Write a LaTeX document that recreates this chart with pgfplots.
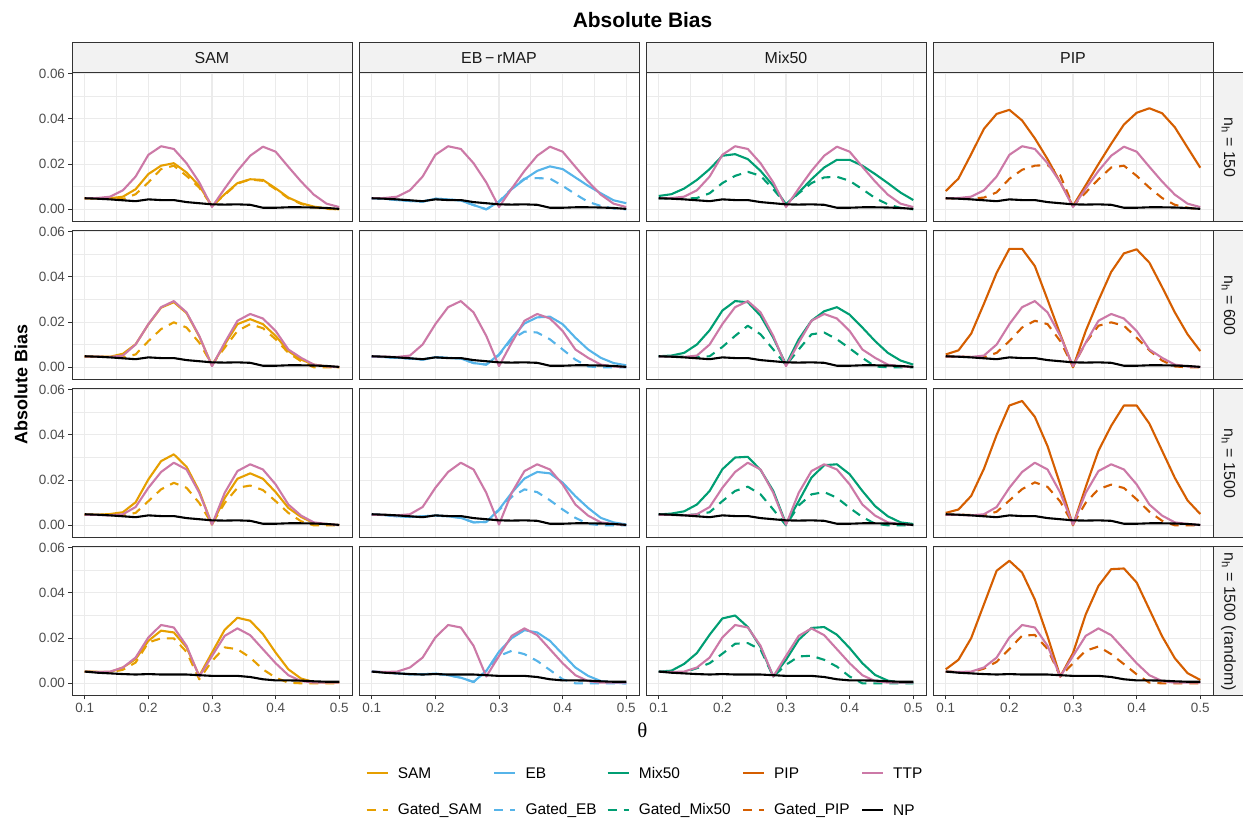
\documentclass[border=0pt]{standalone}
\usepackage{pgfplots}
\pgfplotsset{compat=1.18}
\usepackage{pgfplotstable}
\usepackage{fontspec}
\setmainfont{Liberation Sans}
\newfontfamily\seriffont{Liberation Serif}
\definecolor{cSAM}{HTML}{E69F00}
\definecolor{cEB}{HTML}{56B4E9}
\definecolor{cMIX}{HTML}{009E73}
\definecolor{cPIP}{HTML}{D55E00}
\definecolor{cTTP}{HTML}{CC79A7}
\definecolor{grid92}{HTML}{EBEBEB}
\definecolor{g20}{HTML}{333333}
\definecolor{g30}{HTML}{4D4D4D}
\definecolor{g10}{HTML}{1A1A1A}
\definecolor{stripbg}{HTML}{F2F2F2}
\tikzset{gated/.style={dash pattern=on 9bp off 7bp}}

\pgfplotstableread{
x     sam    gsam   eb     geb    mix    gmix   pip    gpip   ttp    np
0.10 0.0049 0.0049 0.0049 0.0049 0.0059 0.0049 0.0081 0.0049 0.0049 0.0049
0.12 0.0048 0.0048 0.0047 0.0047 0.0067 0.0048 0.0136 0.0048 0.0050 0.0047
0.14 0.0049 0.0047 0.0041 0.0041 0.0092 0.0047 0.0244 0.0047 0.0056 0.0044
0.16 0.0056 0.0045 0.0037 0.0037 0.0130 0.0050 0.0356 0.0052 0.0084 0.0040
0.18 0.0089 0.0067 0.0034 0.0034 0.0178 0.0071 0.0422 0.0075 0.0145 0.0036
0.20 0.0156 0.0119 0.0047 0.0047 0.0237 0.0116 0.0440 0.0135 0.0241 0.0044
0.22 0.0193 0.0178 0.0044 0.0044 0.0244 0.0148 0.0393 0.0175 0.0279 0.0041
0.24 0.0204 0.0193 0.0039 0.0039 0.0222 0.0166 0.0314 0.0193 0.0267 0.0041
0.26 0.0163 0.0148 0.0019 0.0019 0.0170 0.0148 0.0222 0.0196 0.0204 0.0032
0.28 0.0104 0.0096 0.0000 0.0000 0.0104 0.0089 0.0119 0.0150 0.0119 0.0027
0.30 0.0015 0.0015 0.0034 0.0034 0.0022 0.0022 0.0015 0.0015 0.0010 0.0022
0.32 0.0067 0.0064 0.0089 0.0092 0.0074 0.0071 0.0107 0.0074 0.0092 0.0021
0.34 0.0116 0.0114 0.0133 0.0136 0.0133 0.0116 0.0200 0.0133 0.0170 0.0022
0.36 0.0133 0.0132 0.0170 0.0138 0.0185 0.0141 0.0290 0.0185 0.0237 0.0020
0.38 0.0130 0.0126 0.0190 0.0136 0.0219 0.0144 0.0375 0.0193 0.0277 0.0007
0.40 0.0093 0.0089 0.0178 0.0104 0.0219 0.0126 0.0427 0.0148 0.0255 0.0007
0.42 0.0052 0.0049 0.0141 0.0067 0.0193 0.0089 0.0447 0.0096 0.0188 0.0009
0.44 0.0027 0.0024 0.0104 0.0033 0.0156 0.0050 0.0425 0.0050 0.0123 0.0009
0.46 0.0012 0.0009 0.0071 0.0015 0.0116 0.0022 0.0363 0.0020 0.0065 0.0008
0.48 0.0004 0.0002 0.0040 0.0004 0.0074 0.0006 0.0273 0.0007 0.0025 0.0006
0.50 0.0000 0.0000 0.0027 0.0000 0.0041 0.0000 0.0184 0.0000 0.0010 0.0002
}\rowA
\pgfplotstableread{
x     sam    gsam   eb     geb    mix    gmix   pip    gpip   ttp    np
0.10 0.0048 0.0048 0.0048 0.0048 0.0049 0.0049 0.0057 0.0048 0.0048 0.0049
0.12 0.0047 0.0047 0.0045 0.0045 0.0052 0.0048 0.0075 0.0047 0.0047 0.0047
0.14 0.0047 0.0046 0.0042 0.0042 0.0064 0.0047 0.0149 0.0046 0.0046 0.0044
0.16 0.0060 0.0044 0.0039 0.0039 0.0101 0.0045 0.0281 0.0045 0.0052 0.0040
0.18 0.0102 0.0057 0.0034 0.0034 0.0164 0.0049 0.0418 0.0064 0.0101 0.0036
0.20 0.0190 0.0116 0.0045 0.0045 0.0251 0.0090 0.0524 0.0116 0.0191 0.0044
0.22 0.0264 0.0169 0.0042 0.0042 0.0293 0.0139 0.0524 0.0176 0.0266 0.0041
0.24 0.0288 0.0199 0.0039 0.0039 0.0288 0.0184 0.0448 0.0206 0.0293 0.0041
0.26 0.0240 0.0176 0.0019 0.0019 0.0228 0.0146 0.0299 0.0191 0.0243 0.0032
0.28 0.0136 0.0109 0.0012 0.0012 0.0131 0.0079 0.0146 0.0116 0.0139 0.0027
0.30 0.0008 0.0012 0.0057 0.0054 0.0012 0.0009 0.0000 0.0004 0.0005 0.0022
0.32 0.0101 0.0087 0.0131 0.0124 0.0124 0.0079 0.0161 0.0109 0.0109 0.0021
0.34 0.0191 0.0161 0.0194 0.0158 0.0206 0.0146 0.0296 0.0184 0.0206 0.0022
0.36 0.0213 0.0191 0.0221 0.0154 0.0248 0.0154 0.0422 0.0199 0.0236 0.0020
0.38 0.0191 0.0173 0.0224 0.0124 0.0266 0.0124 0.0504 0.0184 0.0216 0.0007
0.40 0.0139 0.0124 0.0191 0.0079 0.0233 0.0084 0.0522 0.0131 0.0161 0.0007
0.42 0.0072 0.0064 0.0131 0.0034 0.0176 0.0042 0.0463 0.0075 0.0079 0.0009
0.44 0.0034 0.0027 0.0079 0.0004 0.0116 0.0004 0.0355 0.0030 0.0042 0.0009
0.46 0.0012 0.0000 0.0042 0.0000 0.0064 0.0000 0.0243 0.0004 0.0012 0.0008
0.48 0.0004 0.0000 0.0019 0.0000 0.0030 0.0000 0.0146 0.0000 0.0004 0.0006
0.50 0.0000 0.0000 0.0009 0.0000 0.0012 0.0000 0.0072 0.0000 0.0001 0.0002
}\rowB
\pgfplotstableread{
x     sam    gsam   eb     geb    mix    gmix   pip    gpip   ttp    np
0.10 0.0047 0.0047 0.0048 0.0048 0.0048 0.0048 0.0055 0.0047 0.0047 0.0049
0.12 0.0047 0.0047 0.0045 0.0045 0.0052 0.0047 0.0070 0.0047 0.0046 0.0047
0.14 0.0050 0.0046 0.0040 0.0040 0.0062 0.0046 0.0130 0.0046 0.0044 0.0044
0.16 0.0058 0.0045 0.0037 0.0037 0.0092 0.0048 0.0250 0.0045 0.0049 0.0040
0.18 0.0102 0.0055 0.0040 0.0040 0.0152 0.0058 0.0400 0.0060 0.0081 0.0036
0.20 0.0203 0.0107 0.0043 0.0043 0.0248 0.0107 0.0530 0.0110 0.0166 0.0044
0.22 0.0284 0.0159 0.0040 0.0040 0.0300 0.0152 0.0550 0.0160 0.0236 0.0041
0.24 0.0314 0.0188 0.0033 0.0033 0.0303 0.0171 0.0480 0.0190 0.0277 0.0041
0.26 0.0259 0.0166 0.0013 0.0013 0.0245 0.0137 0.0350 0.0170 0.0247 0.0032
0.28 0.0151 0.0099 0.0015 0.0015 0.0152 0.0070 0.0180 0.0105 0.0144 0.0027
0.30 0.0003 0.0006 0.0070 0.0067 0.0007 0.0000 0.0000 0.0004 0.0003 0.0022
0.32 0.0121 0.0099 0.0144 0.0126 0.0107 0.0088 0.0170 0.0100 0.0144 0.0021
0.34 0.0206 0.0166 0.0207 0.0159 0.0211 0.0137 0.0330 0.0160 0.0240 0.0022
0.36 0.0230 0.0176 0.0236 0.0147 0.0266 0.0147 0.0440 0.0180 0.0270 0.0020
0.38 0.0206 0.0156 0.0230 0.0111 0.0270 0.0122 0.0530 0.0165 0.0247 0.0007
0.40 0.0147 0.0107 0.0189 0.0070 0.0226 0.0077 0.0530 0.0115 0.0181 0.0007
0.42 0.0077 0.0055 0.0129 0.0033 0.0152 0.0037 0.0450 0.0060 0.0092 0.0009
0.44 0.0037 0.0018 0.0077 0.0007 0.0085 0.0007 0.0330 0.0020 0.0043 0.0009
0.46 0.0010 0.0000 0.0033 0.0000 0.0040 0.0000 0.0210 0.0000 0.0013 0.0008
0.48 0.0004 0.0000 0.0013 0.0000 0.0013 0.0000 0.0110 0.0000 0.0006 0.0006
0.50 0.0001 0.0000 0.0004 0.0000 0.0006 0.0000 0.0050 0.0000 0.0001 0.0002
}\rowC
\pgfplotstableread{
x     sam    gsam   eb     geb    mix    gmix   pip    gpip   ttp    np
0.10 0.0052 0.0052 0.0052 0.0052 0.0052 0.0052 0.0062 0.0052 0.0052 0.0052
0.12 0.0051 0.0050 0.0049 0.0049 0.0056 0.0050 0.0104 0.0050 0.0050 0.0047
0.14 0.0050 0.0049 0.0044 0.0044 0.0086 0.0049 0.0200 0.0049 0.0052 0.0044
0.16 0.0070 0.0060 0.0040 0.0040 0.0134 0.0067 0.0349 0.0065 0.0070 0.0041
0.18 0.0107 0.0092 0.0040 0.0040 0.0215 0.0089 0.0498 0.0095 0.0114 0.0039
0.20 0.0188 0.0181 0.0043 0.0043 0.0287 0.0131 0.0542 0.0152 0.0203 0.0041
0.22 0.0233 0.0199 0.0036 0.0036 0.0300 0.0175 0.0490 0.0211 0.0258 0.0039
0.24 0.0225 0.0199 0.0025 0.0025 0.0249 0.0178 0.0371 0.0214 0.0247 0.0039
0.26 0.0159 0.0139 0.0006 0.0006 0.0160 0.0149 0.0208 0.0152 0.0166 0.0039
0.28 0.0033 0.0018 0.0055 0.0055 0.0030 0.0030 0.0030 0.0030 0.0030 0.0036
0.30 0.0136 0.0099 0.0140 0.0121 0.0104 0.0082 0.0134 0.0089 0.0121 0.0033
0.32 0.0237 0.0159 0.0200 0.0144 0.0193 0.0119 0.0305 0.0144 0.0210 0.0033
0.34 0.0290 0.0151 0.0235 0.0129 0.0245 0.0122 0.0431 0.0163 0.0243 0.0033
0.36 0.0277 0.0114 0.0225 0.0099 0.0249 0.0104 0.0505 0.0129 0.0213 0.0028
0.38 0.0218 0.0062 0.0188 0.0059 0.0215 0.0074 0.0508 0.0085 0.0151 0.0018
0.40 0.0136 0.0025 0.0129 0.0018 0.0156 0.0030 0.0446 0.0040 0.0089 0.0013
0.42 0.0062 0.0003 0.0070 0.0000 0.0089 0.0000 0.0327 0.0003 0.0036 0.0013
0.44 0.0021 0.0000 0.0033 0.0000 0.0037 0.0000 0.0208 0.0000 0.0010 0.0012
0.46 0.0006 0.0000 0.0010 0.0000 0.0012 0.0000 0.0111 0.0000 0.0003 0.0009
0.48 0.0003 0.0000 0.0003 0.0000 0.0003 0.0000 0.0045 0.0000 0.0003 0.0007
0.50 0.0003 0.0000 0.0000 0.0000 0.0003 0.0000 0.0015 0.0000 0.0003 0.0007
}\rowD

\pgfplotsset{
  panel/.style={
    scale only axis, width=280bp, height=149bp, anchor=north west,
    xmin=0.08, xmax=0.52, ymin=-0.0056, ymax=0.0603,
    xtick={0.1,0.2,0.3,0.4,0.5}, minor xtick={0.15,0.25,0.35,0.45},
    ytick={0,0.02,0.04,0.06}, minor ytick={0.01,0.03,0.05},
    xtick pos=bottom, ytick pos=left,
    grid=both,
    major grid style={draw=grid92, line width=1.2bp},
    minor grid style={draw=grid92, line width=0.7bp},
    axis line style={draw=g20, line width=1bp},
    xticklabels={}, yticklabels={},
    tick align=outside, major tick length=3.5bp, minor tick length=0pt,
    xtick style={draw=none}, ytick style={draw=none},
    ticklabel style={font=\fontsize{13.5}{13.5}\selectfont, text=g30},
    scaled ticks=false,
    every axis plot/.append style={line width=2.1bp, line join=round, no marks},
  },
  leftcol/.style={yticklabels={0.00,0.02,0.04,0.06}, ytick style={draw=g20, line width=0.9bp}},
  bottomrow/.style={xticklabels={0.1,0.2,0.3,0.4,0.5}, xtick style={draw=g20, line width=0.9bp}},
}

\newcommand{\panel}[7]{%
  \begin{axis}[panel, at={(#1bp,#2bp)}, #7]
    \addplot[#6] table[x=x,y=#4]{#3};
    \addplot[#6, gated] table[x=x,y=#5]{#3};
    \addplot[cTTP] table[x=x,y=ttp]{#3};
    \addplot[black] table[x=x,y=np]{#3};
  \end{axis}}

\newcommand{\lkey}[4]{%
  \draw[#3, line width=2.1bp] (#1bp,#2bp) -- ++(21bp,0bp);
  \node[anchor=west, font=\fontsize{15.5}{15.5}\selectfont, inner sep=0pt] at ({(#1+31)*1bp},#2bp) {#4};}

\begin{document}
\begin{tikzpicture}
\path[use as bounding box] (0bp,0bp) rectangle (1243bp,818bp);

% row 1 (top 73)
\panel{72}{745}{\rowA}{sam}{gsam}{cSAM}{leftcol}
\panel{359}{745}{\rowA}{eb}{geb}{cEB}{}
\panel{646}{745}{\rowA}{mix}{gmix}{cMIX}{}
\panel{933}{745}{\rowA}{pip}{gpip}{cPIP}{}
% row 2 (top 231)
\panel{72}{587}{\rowB}{sam}{gsam}{cSAM}{leftcol}
\panel{359}{587}{\rowB}{eb}{geb}{cEB}{}
\panel{646}{587}{\rowB}{mix}{gmix}{cMIX}{}
\panel{933}{587}{\rowB}{pip}{gpip}{cPIP}{}
% row 3 (top 389)
\panel{72}{429}{\rowC}{sam}{gsam}{cSAM}{leftcol}
\panel{359}{429}{\rowC}{eb}{geb}{cEB}{}
\panel{646}{429}{\rowC}{mix}{gmix}{cMIX}{}
\panel{933}{429}{\rowC}{pip}{gpip}{cPIP}{}
% row 4 (top 547)
\panel{72}{271}{\rowD}{sam}{gsam}{cSAM}{leftcol,bottomrow}
\panel{359}{271}{\rowD}{eb}{geb}{cEB}{bottomrow}
\panel{646}{271}{\rowD}{mix}{gmix}{cMIX}{bottomrow}
\panel{933}{271}{\rowD}{pip}{gpip}{cPIP}{bottomrow}

% top strips
\foreach \xl/\lab in {72/SAM, 359/{EB\,−\,rMAP}, 646/Mix50, 933/PIP}{
  \draw[g20, fill=stripbg, line width=1bp] ({\xl*1bp},775bp) rectangle ({(\xl+280)*1bp},745bp);
  \node[font=\fontsize{16}{16}\selectfont, text=g10] at ({(\xl+140)*1bp},760bp) {\lab};
}
% right strips
\foreach \yt/\lab in {745/{n\textsubscript{h} = 150}, 587/{n\textsubscript{h} = 600}, 429/{n\textsubscript{h} = 1500}, 271/{n\textsubscript{h} = 1500 (random)}}{
  \draw[g20, fill=stripbg, line width=1bp] (1213bp,{\yt*1bp}) rectangle (1245bp,{(\yt-149)*1bp});
  \node[rotate=-90, font=\fontsize{16}{16}\selectfont, text=g10] at (1228.5bp,{(\yt-74.5)*1bp}) {\lab};
}

% titles
\node[font=\bfseries\fontsize{21}{21}\selectfont] at (642.5bp,798bp) {Absolute Bias};
\node[rotate=90, font=\bfseries\fontsize{18}{18}\selectfont] at (21bp,433.5bp) {Absolute Bias};
\node[font=\seriffont\fontsize{21}{21}\selectfont] at (642.5bp,88bp) {θ};

% legend
\lkey{366.6}{45}{cSAM}{SAM}
\lkey{494.3}{45}{cEB}{EB}
\lkey{607.7}{45}{cMIX}{Mix50}
\lkey{743}{45}{cPIP}{PIP}
\lkey{862}{45}{cTTP}{TTP}
\lkey{366.6}{8}{cSAM,gated}{Gated\_SAM}
\lkey{494.3}{8}{cEB,gated}{Gated\_EB}
\lkey{607.7}{8}{cMIX,gated}{Gated\_Mix50}
\lkey{743}{8}{cPIP,gated}{Gated\_PIP}
\lkey{862}{8}{black}{NP}
\end{tikzpicture}
\end{document}
